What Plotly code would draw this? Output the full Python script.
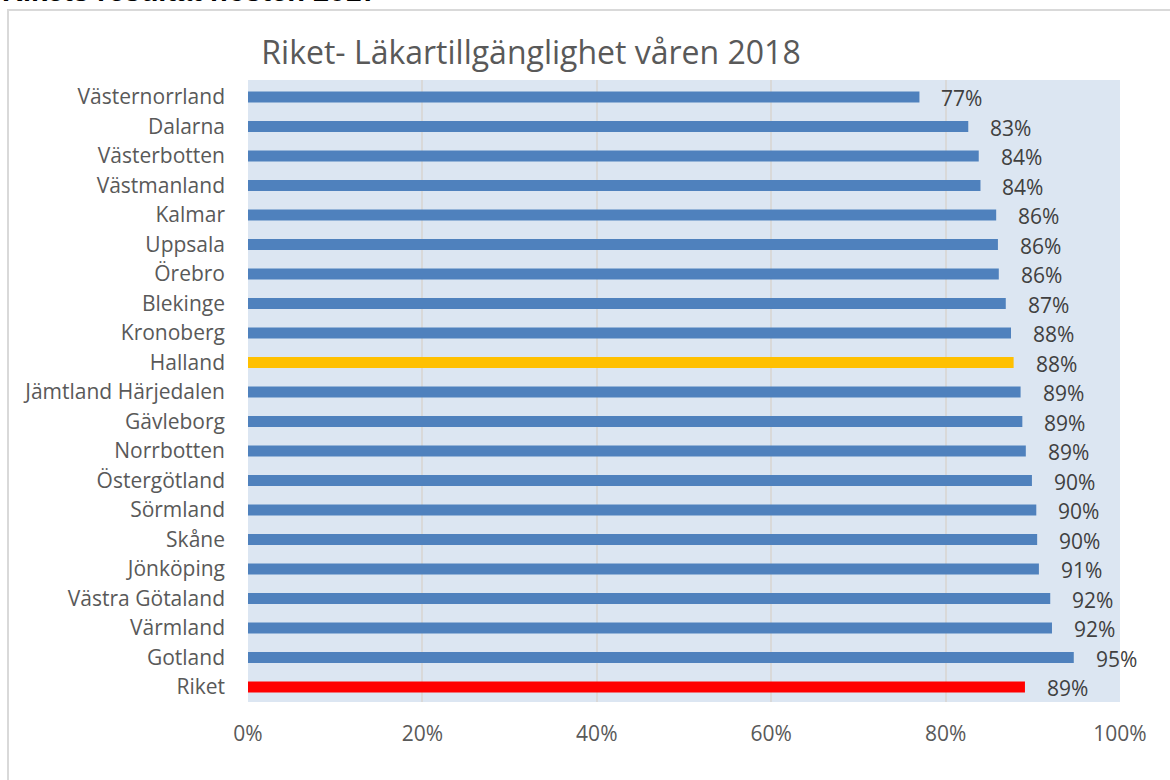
import plotly.graph_objects as go

regions = ["Västernorrland", "Dalarna", "Västerbotten", "Västmanland", "Kalmar", "Uppsala",
           "Örebro", "Blekinge", "Kronoberg", "Halland", "Jämtland Härjedalen", "Gävleborg",
           "Norrbotten", "Östergötland", "Sörmland", "Skåne", "Jönköping", "Västra Götaland",
           "Värmland", "Gotland", "Riket"]
values = [0.770, 0.826, 0.838, 0.840, 0.858, 0.860, 0.861, 0.869, 0.875, 0.878, 0.886, 0.888,
          0.892, 0.899, 0.904, 0.905, 0.907, 0.920, 0.922, 0.947, 0.891]
labels = ["77%", "83%", "84%", "84%", "86%", "86%", "86%", "87%", "88%", "88%", "89%", "89%",
          "89%", "90%", "90%", "90%", "91%", "92%", "92%", "95%", "89%"]
tick_vals = [0, 0.2, 0.4, 0.6, 0.8, 1.0]
tick_text = ["0%", "20%", "40%", "60%", "80%", "100%"]

title_text = "Riket- Läkartillgänglighet våren 2018"
header_text = "Rikets resultat hösten 2017"

colors = []
for r in regions:
    if r == "Halland":
        colors.append("#ffc000")
    elif r == "Riket":
        colors.append("#ff0000")
    else:
        colors.append("#4f81bd")

FONT = "'Open Sans', sans-serif"

fig = go.Figure()
fig.add_trace(go.Bar(
    x=values, y=regions, orientation="h",
    marker=dict(color=colors, line=dict(width=0)),
    hoverinfo="x+y",
))

for r, v, t in zip(regions, values, labels):
    fig.add_annotation(x=v, y=r, xref="x", yref="y", text=t, showarrow=False,
                       xanchor="left", xshift=20, yshift=-1,
                       font=dict(family=FONT, size=21, color="#404040"))

# cropped header text above the chart frame
fig.add_annotation(x=-248/872, y=1, xref="paper", yref="paper", text="<b>" + header_text + "</b>",
                   showarrow=False, xanchor="left", yanchor="bottom", yshift=71,
                   font=dict(family="Liberation Sans, Arial, sans-serif", size=29, color="#000000"))

# outer chart frame
fig.add_shape(type="rect", xref="paper", yref="paper",
              x0=(8 - 248) / 872, x1=(1200 - 248) / 872,
              y0=(702 - 800) / 622, y1=(702 - 10) / 622,
              line=dict(color="#d9d9d9", width=2), fillcolor="rgba(0,0,0,0)", layer="below")

fig.update_layout(
    width=1170, height=780,
    margin=dict(l=248, r=50, t=80, b=78),
    paper_bgcolor="white",
    plot_bgcolor="#dce6f2",
    showlegend=False,
    bargap=0.62,
    title=dict(text=title_text, x=531/1170, xref="container", xanchor="center",
               y=1 - 53/780, yanchor="middle",
               font=dict(family=FONT, size=32, color="#595959")),
    xaxis=dict(range=[0, 1.0], tickvals=tick_vals, ticktext=tick_text,
               showgrid=True, gridcolor="#d9d9d9", gridwidth=2, zeroline=False,
               showline=False, ticks="", ticklabelstandoff=17,
               tickfont=dict(family=FONT, size=21, color="#595959"), fixedrange=True),
    yaxis=dict(autorange="reversed", showgrid=False, ticks="", showline=False,
               ticklabelstandoff=22,
               tickfont=dict(family=FONT, size=21, color="#595959")),
)

fig.write_html("out.html", config={"displayModeBar": False},
               post_script="document.body.style.margin='0';document.body.style.overflow='hidden';")
